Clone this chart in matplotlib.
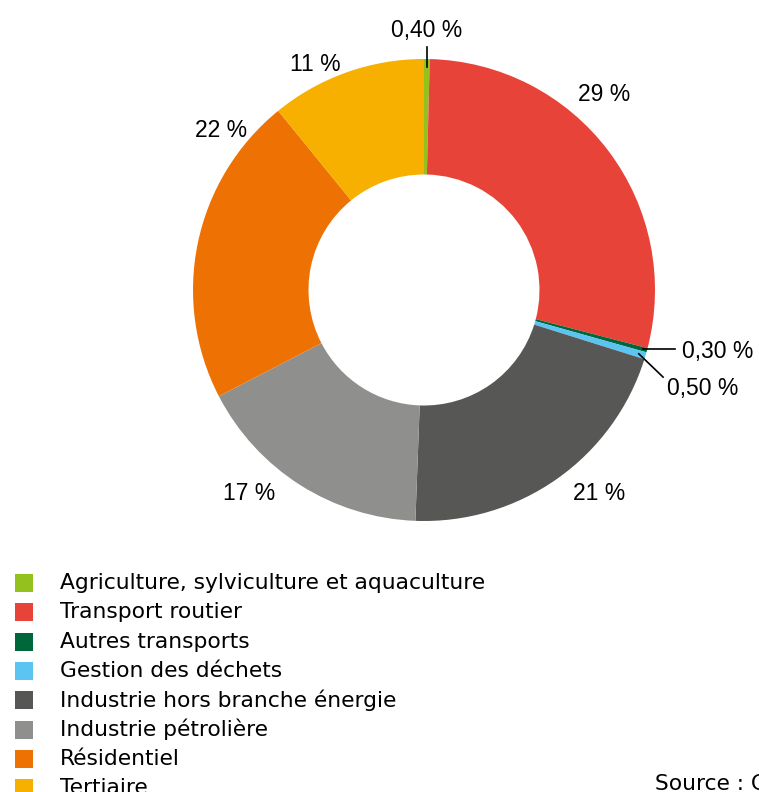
import numpy as np
import matplotlib
matplotlib.use('Agg')
import matplotlib.pyplot as plt
from matplotlib.patches import Rectangle

plt.rcParams['font.family'] = ['Liberation Sans', 'DejaVu Sans']

sectors = ['Agriculture, sylviculture et aquaculture', 'Transport routier',
           'Autres transports', 'Gestion des déchets',
           'Industrie hors branche énergie', 'Industrie pétrolière',
           'Résidentiel', 'Tertiaire']
shares = [0.40, 29, 0.30, 0.50, 21, 17, 22, 11]
share_labels = ['0,40 %', '29 %', '0,30 %', '0,50 %', '21 %', '17 %', '22 %', '11 %']
colors = ['#95C11F', '#E84339', '#00673A', '#5BC4F1',
          '#575756', '#8F8F8E', '#EE7203', '#F7B000']

W, H = 759, 792
fig = plt.figure(figsize=(W / 100, H / 100), dpi=100)
ax = fig.add_axes([0, 0, 1, 1])

wedges, _ = ax.pie(shares, colors=colors, startangle=90, counterclock=False,
                   radius=1.0, wedgeprops=dict(width=0.5, linewidth=0))

# pie centre at (424, 290) px, radius 231 px
cx, cy, r = 424, 290, 231
ax.set_xlim(-cx / r, (W - cx) / r)
ax.set_ylim(-(H - cy) / r, cy / r)
ax.set_aspect('auto')
ax.axis('off')

fs = 16.5
legend_font = ['DejaVu Sans']
legend_fs = 15.7

# big slices: label positions in pie units
big_pos = {1: (0.78, 0.845), 4: (0.76, -0.88), 5: (-0.755, -0.88),
           6: (-0.88, 0.69), 7: (-0.47, 0.975)}
for i, (x, y) in big_pos.items():
    ax.text(x, y, share_labels[i], fontsize=fs, ha='center', va='center')

def mid_point(w, rad):
    a = np.deg2rad((w.theta1 + w.theta2) / 2)
    return rad * np.cos(a), rad * np.sin(a)

# small slices with leader lines
x0, y0 = mid_point(wedges[0], 0.965)
ax.plot([x0, x0], [y0, 1.052], color='black', lw=1.2)
ax.text(x0, 1.125, share_labels[0], fontsize=fs, ha='center', va='center')

x2, y2 = mid_point(wedges[2], 0.98)
ax.plot([x2, 1.087], [y2, y2], color='black', lw=1.2)
ax.text(1.115, y2 - 0.01, share_labels[2], fontsize=fs, ha='left', va='center')

x3, y3 = mid_point(wedges[3], 0.97)
ax.plot([x3, 1.035], [y3, -0.377], color='black', lw=1.2)
ax.text(1.05, -0.425, share_labels[3], fontsize=fs, ha='left', va='center')

# legend
row0, step = 583, 29.3
for k, (name, col) in enumerate(zip(sectors, colors)):
    yc = row0 + k * step
    fig.add_artist(Rectangle((15 / W, 1 - (yc + 9) / H), 18 / W, 18 / H,
                             transform=fig.transFigure, color=col, lw=0))
    fig.text(60 / W, 1 - yc / H, name, fontsize=legend_fs, family=legend_font,
             ha='left', va='center')

fig.text(655 / W, 1 - 784 / H, 'Source : Citepa', fontsize=legend_fs,
         family=legend_font, ha='left', va='center')

fig.savefig('out.png', dpi=100)
